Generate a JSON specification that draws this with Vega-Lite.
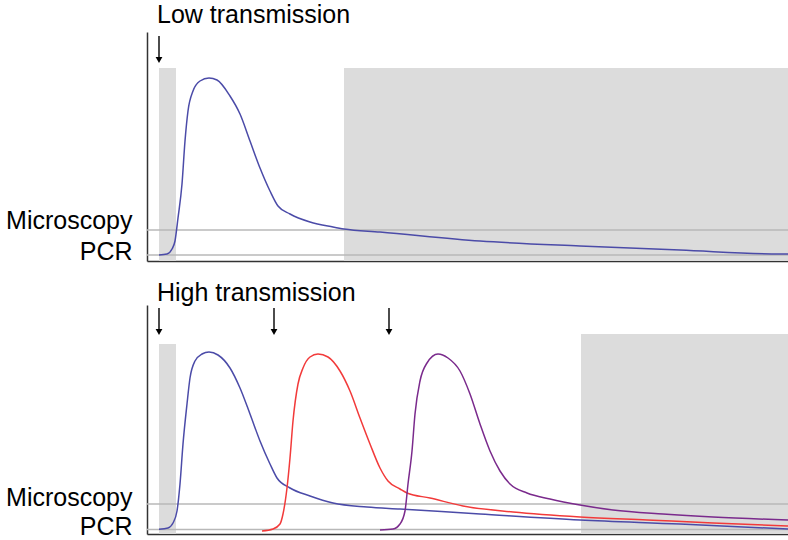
{
  "$schema": "https://vega.github.io/schema/vega-lite/v6.json",
  "background": "white",
  "padding": {"left": 5, "top": 3, "right": 0, "bottom": 0},
  "autosize": {"type": "pad"},
  "bounds": "flush",
  "spacing": 44,
  "config": {
    "view": {"stroke": null},
    "font": "Liberation Sans",
    "axis": {"grid": false, "ticks": false, "title": null, "domainColor": "#333333", "domainWidth": 1.5, "labelOverlap": false}
  },
  "datasets": {
    "titles_top": [{"x": 10, "y": 238, "label": "Low transmission"}],
    "titles_bottom": [{"x": 10, "y": 233, "label": "High transmission"}],
    "rects_top": [
      {"x1": 12, "x2": 29, "y1": 0, "y2": 193},
      {"x1": 197, "x2": 641, "y1": 0, "y2": 193}
    ],
    "rects_bottom": [
      {"x1": 12, "x2": 29, "y1": 0, "y2": 190},
      {"x1": 434, "x2": 641, "y1": 0, "y2": 200}
    ],
    "thresholds_top": [{"name": "Microscopy", "y": 31}, {"name": "PCR", "y": 6}],
    "thresholds_bottom": [{"name": "Microscopy", "y": 30}, {"name": "PCR", "y": 4.5}],
    "arrows_top": [{"x": 12, "top": 225, "bottom": 204, "head": 201}],
    "arrows_bottom": [
      {"x": 12, "top": 226, "bottom": 205, "head": 202},
      {"x": 127, "top": 226, "bottom": 205, "head": 202},
      {"x": 242, "top": 226, "bottom": 205, "head": 202}
    ],
    "curves_top": [
      {"series": "blue", "x": 12, "y": 6}, {"series": "blue", "x": 20, "y": 7}, {"series": "blue", "x": 25, "y": 12},
      {"series": "blue", "x": 28, "y": 20}, {"series": "blue", "x": 31, "y": 43}, {"series": "blue", "x": 35, "y": 77},
      {"series": "blue", "x": 38, "y": 120}, {"series": "blue", "x": 41, "y": 150}, {"series": "blue", "x": 46, "y": 170},
      {"series": "blue", "x": 53, "y": 180}, {"series": "blue", "x": 62, "y": 183}, {"series": "blue", "x": 70, "y": 181},
      {"series": "blue", "x": 83, "y": 165}, {"series": "blue", "x": 93, "y": 147}, {"series": "blue", "x": 103, "y": 120},
      {"series": "blue", "x": 113, "y": 93}, {"series": "blue", "x": 123, "y": 70}, {"series": "blue", "x": 131, "y": 55},
      {"series": "blue", "x": 143, "y": 47}, {"series": "blue", "x": 163, "y": 39}, {"series": "blue", "x": 186, "y": 34},
      {"series": "blue", "x": 197, "y": 32}, {"series": "blue", "x": 233, "y": 29}, {"series": "blue", "x": 333, "y": 20},
      {"series": "blue", "x": 433, "y": 15}, {"series": "blue", "x": 533, "y": 11}, {"series": "blue", "x": 633, "y": 7},
      {"series": "blue", "x": 641, "y": 7}
    ],
    "curves_bottom": [
      {"series": "blue", "x": 12, "y": 4.7}, {"series": "blue", "x": 21, "y": 6}, {"series": "blue", "x": 26, "y": 11},
      {"series": "blue", "x": 30, "y": 23}, {"series": "blue", "x": 33, "y": 50}, {"series": "blue", "x": 36, "y": 90},
      {"series": "blue", "x": 40, "y": 130}, {"series": "blue", "x": 43, "y": 156}, {"series": "blue", "x": 48, "y": 173},
      {"series": "blue", "x": 55, "y": 180}, {"series": "blue", "x": 62, "y": 182}, {"series": "blue", "x": 71, "y": 179},
      {"series": "blue", "x": 83, "y": 166}, {"series": "blue", "x": 93, "y": 146}, {"series": "blue", "x": 103, "y": 120},
      {"series": "blue", "x": 113, "y": 93}, {"series": "blue", "x": 123, "y": 70}, {"series": "blue", "x": 130, "y": 56},
      {"series": "blue", "x": 143, "y": 46}, {"series": "blue", "x": 163, "y": 38}, {"series": "blue", "x": 186, "y": 31},
      {"series": "blue", "x": 220, "y": 27}, {"series": "blue", "x": 253, "y": 25}, {"series": "blue", "x": 333, "y": 20},
      {"series": "blue", "x": 433, "y": 14}, {"series": "blue", "x": 533, "y": 10}, {"series": "blue", "x": 641, "y": 5},
      {"series": "red", "x": 115, "y": 3}, {"series": "red", "x": 126, "y": 5}, {"series": "red", "x": 133, "y": 10},
      {"series": "red", "x": 136, "y": 20}, {"series": "red", "x": 140, "y": 46}, {"series": "red", "x": 143, "y": 76},
      {"series": "red", "x": 146, "y": 113}, {"series": "red", "x": 151, "y": 150}, {"series": "red", "x": 156, "y": 166},
      {"series": "red", "x": 163, "y": 177}, {"series": "red", "x": 171, "y": 180}, {"series": "red", "x": 181, "y": 177},
      {"series": "red", "x": 193, "y": 163}, {"series": "red", "x": 203, "y": 143}, {"series": "red", "x": 213, "y": 116},
      {"series": "red", "x": 223, "y": 90}, {"series": "red", "x": 233, "y": 66}, {"series": "red", "x": 241, "y": 53},
      {"series": "red", "x": 253, "y": 45}, {"series": "red", "x": 260, "y": 41}, {"series": "red", "x": 283, "y": 36},
      {"series": "red", "x": 316, "y": 28}, {"series": "red", "x": 366, "y": 22}, {"series": "red", "x": 433, "y": 17},
      {"series": "red", "x": 500, "y": 14}, {"series": "red", "x": 566, "y": 11}, {"series": "red", "x": 641, "y": 8},
      {"series": "purple", "x": 233, "y": 4}, {"series": "purple", "x": 246, "y": 5}, {"series": "purple", "x": 253, "y": 10},
      {"series": "purple", "x": 258, "y": 23}, {"series": "purple", "x": 261, "y": 50}, {"series": "purple", "x": 265, "y": 83},
      {"series": "purple", "x": 268, "y": 120}, {"series": "purple", "x": 273, "y": 153}, {"series": "purple", "x": 280, "y": 171},
      {"series": "purple", "x": 291, "y": 180}, {"series": "purple", "x": 301, "y": 176}, {"series": "purple", "x": 313, "y": 163},
      {"series": "purple", "x": 323, "y": 140}, {"series": "purple", "x": 333, "y": 110}, {"series": "purple", "x": 343, "y": 83},
      {"series": "purple", "x": 353, "y": 63}, {"series": "purple", "x": 363, "y": 50}, {"series": "purple", "x": 380, "y": 41},
      {"series": "purple", "x": 403, "y": 35}, {"series": "purple", "x": 433, "y": 29}, {"series": "purple", "x": 466, "y": 24},
      {"series": "purple", "x": 516, "y": 20}, {"series": "purple", "x": 566, "y": 17}, {"series": "purple", "x": 641, "y": 14}
    ]
  },
  "vconcat": [
    {
      "width": 641,
      "height": 229,
      "layer": [
        {
          "data": {"name": "rects_top"},
          "mark": {"type": "rect", "color": "#dcdcdc"},
          "encoding": {
            "x": {"field": "x1", "type": "quantitative", "scale": {"domain": [0, 641], "nice": false, "zero": false}, "axis": {"labels": false}},
            "x2": {"field": "x2"},
            "y": {"field": "y1", "type": "quantitative", "scale": {"domain": [0, 229], "nice": false, "zero": false},
                  "axis": {"values": [33, 2], "labelExpr": "datum.value == 33 ? 'Microscopy' : 'PCR'", "labelFontSize": 25, "labelFont": "Liberation Sans", "labelColor": "black", "labelPadding": 15, "labelBaseline": "alphabetic"}},
            "y2": {"field": "y2"}
          }
        },
        {
          "data": {"name": "thresholds_top"},
          "mark": {"type": "rule", "color": "#b8b8b8", "strokeWidth": 1.5},
          "encoding": {"y": {"field": "y", "type": "quantitative"}}
        },
        {
          "data": {"name": "curves_top"},
          "mark": {"type": "line", "interpolate": "monotone", "strokeWidth": 1.5},
          "encoding": {
            "x": {"field": "x", "type": "quantitative"},
            "y": {"field": "y", "type": "quantitative"},
            "color": {"field": "series", "type": "nominal", "scale": {"domain": ["blue", "red", "purple"], "range": ["#4b4ba8", "#f23a3a", "#7a2a8c"]}, "legend": null}
          }
        },
        {
          "data": {"name": "arrows_top"},
          "mark": {"type": "rule", "color": "black", "strokeWidth": 1.4},
          "encoding": {"x": {"field": "x", "type": "quantitative"}, "y": {"field": "top", "type": "quantitative"}, "y2": {"field": "bottom"}}
        },
        {
          "data": {"name": "arrows_top"},
          "mark": {"type": "point", "shape": "triangle-down", "filled": true, "color": "black", "size": 45, "opacity": 1},
          "encoding": {"x": {"field": "x", "type": "quantitative"}, "y": {"field": "head", "type": "quantitative"}}
        },
        {
          "data": {"name": "titles_top"},
          "mark": {"type": "text", "align": "left", "baseline": "alphabetic", "fontSize": 25, "font": "Liberation Sans", "color": "black"},
          "encoding": {"x": {"field": "x", "type": "quantitative"}, "y": {"field": "y", "type": "quantitative"}, "text": {"field": "label"}}
        }
      ]
    },
    {
      "width": 641,
      "height": 229,
      "layer": [
        {
          "data": {"name": "rects_bottom"},
          "mark": {"type": "rect", "color": "#dcdcdc"},
          "encoding": {
            "x": {"field": "x1", "type": "quantitative", "scale": {"domain": [0, 641], "nice": false, "zero": false}, "axis": {"labels": false}},
            "x2": {"field": "x2"},
            "y": {"field": "y1", "type": "quantitative", "scale": {"domain": [0, 229], "nice": false, "zero": false},
                  "axis": {"values": [29, 0], "labelExpr": "datum.value == 29 ? 'Microscopy' : 'PCR'", "labelFontSize": 25, "labelFont": "Liberation Sans", "labelColor": "black", "labelPadding": 15, "labelBaseline": "alphabetic"}},
            "y2": {"field": "y2"}
          }
        },
        {
          "data": {"name": "thresholds_bottom"},
          "mark": {"type": "rule", "color": "#b8b8b8", "strokeWidth": 1.5},
          "encoding": {"y": {"field": "y", "type": "quantitative"}}
        },
        {
          "data": {"name": "curves_bottom"},
          "mark": {"type": "line", "interpolate": "monotone", "strokeWidth": 1.5},
          "encoding": {
            "x": {"field": "x", "type": "quantitative"},
            "y": {"field": "y", "type": "quantitative"},
            "color": {"field": "series", "type": "nominal", "scale": {"domain": ["blue", "red", "purple"], "range": ["#4b4ba8", "#f23a3a", "#7a2a8c"]}, "legend": null}
          }
        },
        {
          "data": {"name": "arrows_bottom"},
          "mark": {"type": "rule", "color": "black", "strokeWidth": 1.4},
          "encoding": {"x": {"field": "x", "type": "quantitative"}, "y": {"field": "top", "type": "quantitative"}, "y2": {"field": "bottom"}}
        },
        {
          "data": {"name": "arrows_bottom"},
          "mark": {"type": "point", "shape": "triangle-down", "filled": true, "color": "black", "size": 45, "opacity": 1},
          "encoding": {"x": {"field": "x", "type": "quantitative"}, "y": {"field": "head", "type": "quantitative"}}
        },
        {
          "data": {"name": "titles_bottom"},
          "mark": {"type": "text", "align": "left", "baseline": "alphabetic", "fontSize": 25, "font": "Liberation Sans", "color": "black"},
          "encoding": {"x": {"field": "x", "type": "quantitative"}, "y": {"field": "y", "type": "quantitative"}, "text": {"field": "label"}}
        }
      ]
    }
  ]
}
